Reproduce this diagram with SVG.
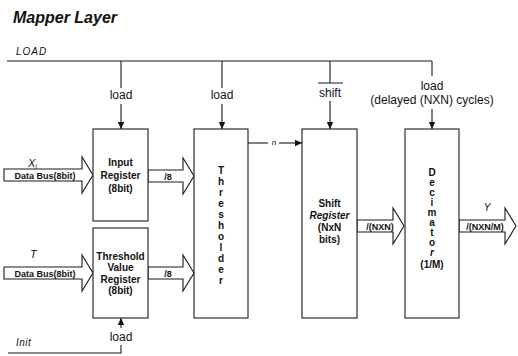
<svg xmlns="http://www.w3.org/2000/svg" width="518" height="356" viewBox="0 0 518 356">
<defs>
<marker id="ah" markerWidth="8" markerHeight="8" refX="7" refY="4" orient="auto" markerUnits="userSpaceOnUse"><path d="M0,0.8 L7,4 L0,7.2 Z" fill="#111"/></marker>
</defs>
<style>
.ln{stroke:#1a1a1a;stroke-width:1.1;fill:none}
.box{fill:#fff;stroke:#1a1a1a;stroke-width:1.1}
.bus{fill:#fff;stroke:#1a1a1a;stroke-width:1.1;stroke-linejoin:miter}
text{font-family:"Liberation Sans",Arial,sans-serif;fill:#111}
.b{font-weight:bold;font-size:10px;text-anchor:middle}
.lb{font-size:12px;text-anchor:middle}
.it{font-style:italic}
.bl{font-weight:bold;font-size:9px;text-anchor:middle}
</style>
<rect width="518" height="356" fill="#fff"/>
<text x="13" y="23" font-size="16" font-weight="bold" font-style="italic">Mapper Layer</text>
<text x="16" y="55" font-size="10" font-style="italic" letter-spacing="1">LOAD</text>
<text x="16" y="346" font-size="10" font-style="italic" letter-spacing="0.5">Init</text>

<g id="connectors">
<path class="ln" d="M7,61 H432"/>
<path class="ln" d="M121,61 V88"/>
<path class="ln" d="M121,104 V129" marker-end="url(#ah)"/>
<text class="lb" x="121" y="99">load</text>
<path class="ln" d="M222,61 V88"/>
<path class="ln" d="M222,104 V129" marker-end="url(#ah)"/>
<text class="lb" x="222" y="99">load</text>
<path class="ln" d="M330,61 V83 M318,83 H343"/>
<text class="lb" x="330" y="97">shift</text>
<path class="ln" d="M330,101 V129" marker-end="url(#ah)"/>
<path class="ln" d="M432,61 V76"/>
<text class="lb" x="432" y="90">load</text>
<text class="lb" x="432" y="104">(delayed (NXN) cycles)</text>
<path class="ln" d="M432,109 V129" marker-end="url(#ah)"/>
<path class="ln" d="M248,143 H268"/>
<text x="274" y="145" font-size="8" font-style="italic" text-anchor="middle">n</text>
<path class="ln" d="M279,143 H302" marker-end="url(#ah)"/>
<path class="ln" d="M8,353 H121 V345"/>
<text class="lb" x="121" y="341">load</text>
<path class="ln" d="M121,328 V318" marker-end="url(#ah)"/>

<polygon class="bus" points="4,169 82,169 82,157 93,175 82,193 82,181 4,181"/>
<text class="bl" x="45" y="178.5" font-size="9.5">Data Bus(8bit)</text>
<text x="28" y="167" font-size="11" font-style="italic">X<tspan font-size="7" dy="2">i</tspan></text>
<polygon class="bus" points="148,170 183,170 183,158 194,176 183,194 183,182 148,182"/>
<text class="bl" x="168" y="179.5">/8</text>
<polygon class="bus" points="4,267 82,267 82,255 93,273 82,291 82,279 4,279"/>
<text class="bl" x="45" y="276.5" font-size="9.5">Data Bus(8bit)</text>
<text x="30" y="258" font-size="11" font-style="italic">T</text>
<polygon class="bus" points="148,267 183,267 183,255 194,273 183,291 183,279 148,279"/>
<text class="bl" x="168" y="276.5">/8</text>
<polygon class="bus" points="357,220 393,220 393,208 404,226 393,244 393,232 357,232"/>
<text class="bl" x="380" y="229.5">/(NXN)</text>
<polygon class="bus" points="459,220 505,220 505,208 516,226 505,244 505,232 459,232"/>
<text class="bl" x="485" y="229.5">/(NXN/M)</text>
<text x="487" y="211" font-size="10" font-style="italic" text-anchor="middle">Y</text>
</g>

<g id="input-register">
<rect class="box" x="93" y="129" width="55" height="92"/>
<text class="b" x="120.5" font-size="11"><tspan x="120.5" y="165.5">Input</tspan><tspan x="120.5" y="178.5">Register</tspan><tspan x="120.5" y="191.5">(8bit)</tspan></text>
</g>

<g id="threshold-value-register">
<rect class="box" x="93" y="228" width="55" height="90"/>
<text class="b"><tspan x="120.5" y="259.5">Threshold</tspan><tspan x="120.5" y="271">Value</tspan><tspan x="120.5" y="282.5">Register</tspan><tspan x="120.5" y="294">(8bit)</tspan></text>
</g>

<g id="thresholder">
<rect class="box" x="194" y="129" width="54" height="189"/>
<text class="b" font-size="10.5"><tspan x="221" y="174">T</tspan><tspan x="221" dy="11">h</tspan><tspan x="221" dy="11">r</tspan><tspan x="221" dy="11">e</tspan><tspan x="221" dy="11">s</tspan><tspan x="221" dy="11">h</tspan><tspan x="221" dy="11">o</tspan><tspan x="221" dy="11">l</tspan><tspan x="221" dy="11">d</tspan><tspan x="221" dy="11">e</tspan><tspan x="221" dy="11">r</tspan></text>
</g>

<g id="shift-register">
<rect class="box" x="302" y="129" width="55" height="189"/>
<text class="b" font-size="11"><tspan x="329.5" y="207">Shift</tspan><tspan x="329.5" y="219" font-style="italic">Register</tspan><tspan x="329.5" y="231">(NxN</tspan><tspan x="329.5" y="243">bits)</tspan></text>
</g>

<g id="decimator">
<rect class="box" x="405" y="129" width="54" height="189"/>
<text class="b" font-size="10.5"><tspan x="432" y="176">D</tspan><tspan x="432" dy="10">e</tspan><tspan x="432" dy="10">c</tspan><tspan x="432" dy="10">i</tspan><tspan x="432" dy="10">m</tspan><tspan x="432" dy="10">a</tspan><tspan x="432" dy="10">t</tspan><tspan x="432" dy="10">o</tspan><tspan x="432" dy="10" font-style="italic">r</tspan><tspan x="432" dy="12">(1/M)</tspan></text>
</g>
</svg>
